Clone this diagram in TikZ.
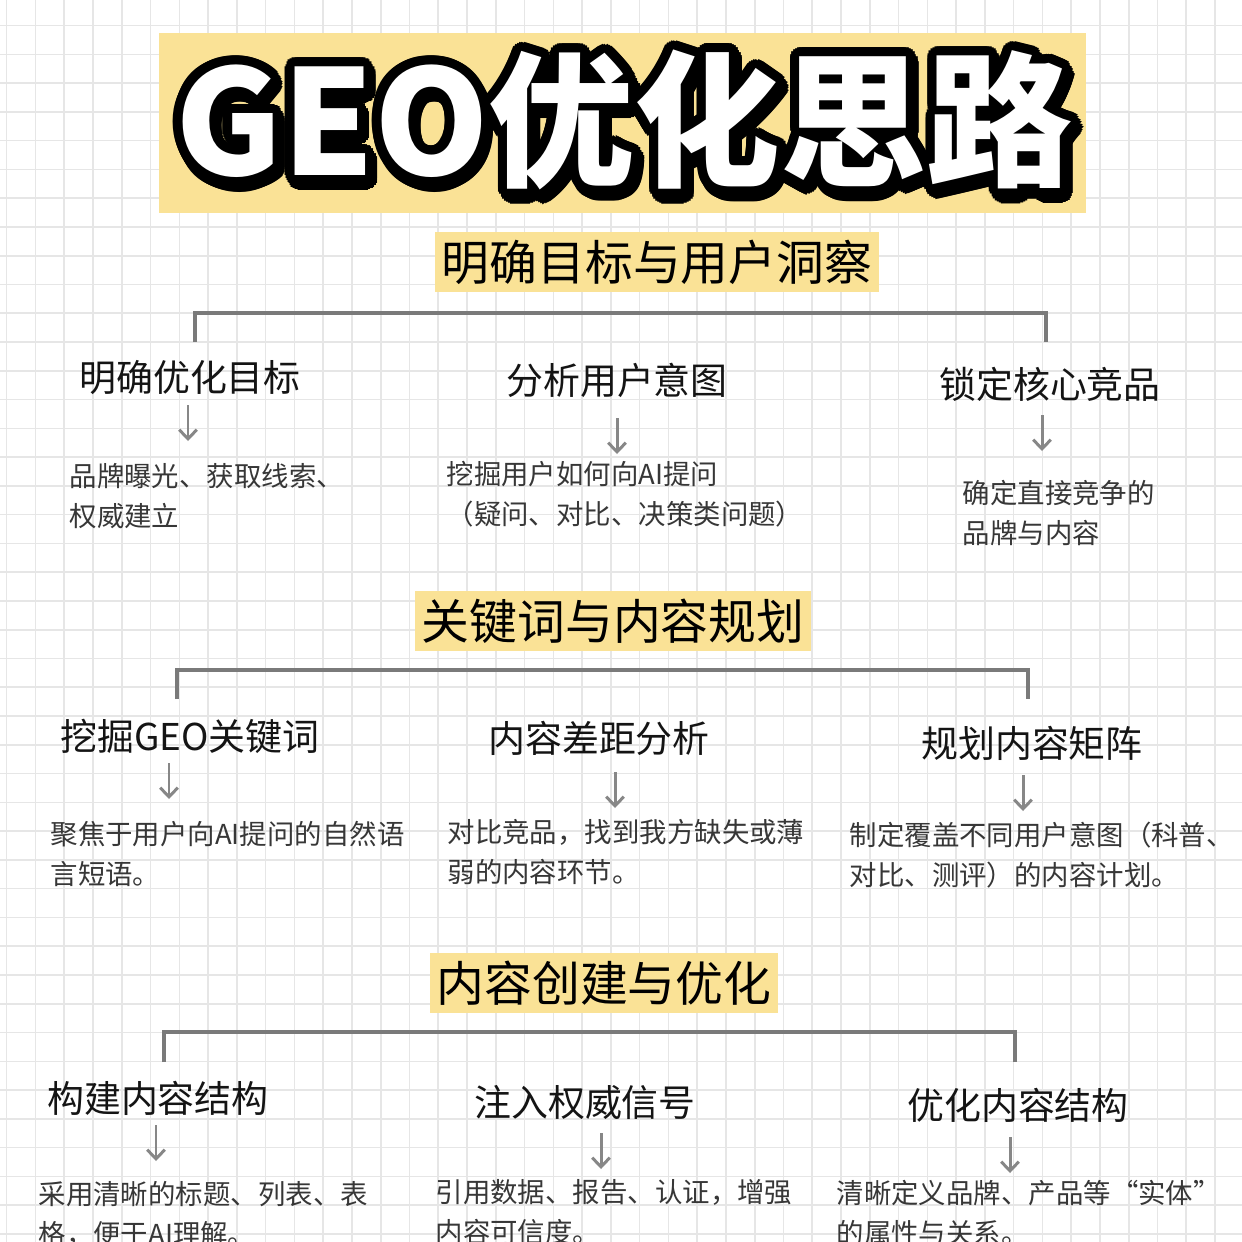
\documentclass[tikz,border=0pt]{standalone}
\usepackage{fontspec}
\setmainfont{Noto Sans CJK SC}
\usetikzlibrary{%
  arrows.meta,% Straight Barb
  positioning,%
  calc%
}
\definecolor{hlyellow}{RGB}{250,226,150}
\definecolor{gridgray}{RGB}{230,230,230}
\definecolor{linegray}{RGB}{122,122,122}
\definecolor{descgray}{RGB}{55,55,55}

\tikzset{
  Title/.style={font=\fontsize{41.5}{44}\selectfont\bfseries, inner sep=0pt},
  Section/.style={fill=hlyellow, text=black, inner xsep=2pt, inner ysep=0pt,
    minimum height=0.6cm, font=\fontsize{13.6}{16}\selectfont},
  Sub/.style={text=black!92, inner sep=0pt, font=\fontsize{10.5}{13}\selectfont},
  Desc/.style={text=descgray, inner sep=0pt, align=left, anchor=west,
    font=\fontsize{7.8}{11.4}\selectfont},
  Bracket/.style={draw=linegray, line width=1pt},
  Down/.style={draw=linegray!90, line width=0.85pt,
    -{Straight Barb[length=2.6pt,width=5pt]}}
}

\begin{document}
\begin{tikzpicture}[x=0.01cm,y=-0.01cm]
  \useasboundingbox (0,0) rectangle (1242,1242);
  \clip (0,0) rectangle (1242,1242);
  \fill[white] (0,0) rectangle (1242,1242);
  % squared paper
  \foreach \i in {0,...,43}{
    \draw[gridgray, line width=0.45pt] ({6.7+28.77*\i},0) -- ({6.7+28.77*\i},1242);
    \draw[gridgray, line width=0.45pt] (0,{-3.2+28.77*\i}) -- (1242,{-3.2+28.77*\i});
  }

  % title
  \fill[hlyellow] (159,33) rectangle (1086,213);
  \foreach \a in {0,15,...,345}{
    \node[Title, text=black] (shade\a) at ($(627,125)+(\a:9.5)$) {GEO优化思路};
    \node[Title, text=black] (rim\a) at ($(624,120)+(\a:9.5)$) {GEO优化思路};
  }
  \node[Title, text=white] (title) at (624,120) {GEO优化思路};

  % part 1
  \node[Section] (sec1) at (657,262) {明确目标与用户洞察};
  \coordinate (b1l) at (195,342);
  \coordinate (b1r) at (1046,342);
  \draw[Bracket] (b1l) -- ++(0,-29) -| (b1r);
  \node[Sub] (goal)   at (190,378)  {明确优化目标};
  \node[Sub] (intent) at (617,380)  {分析用户意图};
  \node[Sub] (rival)  at (1050,384) {锁定核心竞品};
  \coordinate (goaldown)   at (188,405);
  \coordinate (intentdown) at (617,418);
  \coordinate (rivaldown)  at (1042,415);
  \draw[Down] (goaldown) -- ++(0,36);
  \draw[Down] (intentdown) -- ++(0,36);
  \draw[Down] (rivaldown) -- ++(0,36);
  \node[Desc] (goaltxt)   at (69,496)  {品牌曝光、获取线索、\\权威建立};
  \node[Desc] (intenttxt) at (446,494) {挖掘用户如何向AI提问\\（疑问、对比、决策类问题）};
  \node[Desc] (rivaltxt)  at (962,513) {确定直接竞争的\\品牌与内容};

  % part 2
  \node[Section] (sec2) at (613,621) {关键词与内容规划};
  \coordinate (b2l) at (177,699);
  \coordinate (b2r) at (1028,699);
  \draw[Bracket] (b2l) -- ++(0,-29) -| (b2r);
  \node[Sub] (keyword) at (190,736)  {挖掘GEO关键词};
  \node[Sub] (gap)     at (599,738)  {内容差距分析};
  \node[Sub] (plan)    at (1032,743) {规划内容矩阵};
  \coordinate (keyworddown) at (169,763);
  \coordinate (gapdown)     at (615,772);
  \coordinate (plandown)    at (1023,775);
  \draw[Down] (keyworddown) -- ++(0,36);
  \draw[Down] (gapdown) -- ++(0,36);
  \draw[Down] (plandown) -- ++(0,36);
  \node[Desc] (keywordtxt) at (50,854)  {聚焦于用户向AI提问的自然语\\言短语。};
  \node[Desc] (gaptxt)     at (447,852) {对比竞品，找到我方缺失或薄\\弱的内容环节。};
  \node[Desc] (plantxt)    at (849,855) {制定覆盖不同用户意图（科普、\\对比、测评）的内容计划。};

  % part 3
  \node[Section] (sec3) at (604,983) {内容创建与优化};
  \coordinate (b3l) at (164,1062);
  \coordinate (b3r) at (1015,1062);
  \draw[Bracket] (b3l) -- ++(0,-30) -| (b3r);
  \node[Sub] (build)  at (158,1098)  {构建内容结构};
  \node[Sub] (trust)  at (585,1102)  {注入权威信号};
  \node[Sub] (entity) at (1018,1105) {优化内容结构};
  \coordinate (builddown)  at (156,1125);
  \coordinate (trustdown)  at (601,1133);
  \coordinate (entitydown) at (1010,1137);
  \draw[Down] (builddown) -- ++(0,36);
  \draw[Down] (trustdown) -- ++(0,36);
  \draw[Down] (entitydown) -- ++(0,36);
  \node[Desc] (buildtxt)  at (38,1214)  {采用清晰的标题、列表、表\\格，便于AI理解。};
  \node[Desc] (trusttxt)  at (435,1212) {引用数据、报告、认证，增强\\内容可信度。};
  \node[Desc] (entitytxt) at (836,1213) {清晰定义品牌、产品等“实体”\\的属性与关系。};
\end{tikzpicture}
\end{document}
